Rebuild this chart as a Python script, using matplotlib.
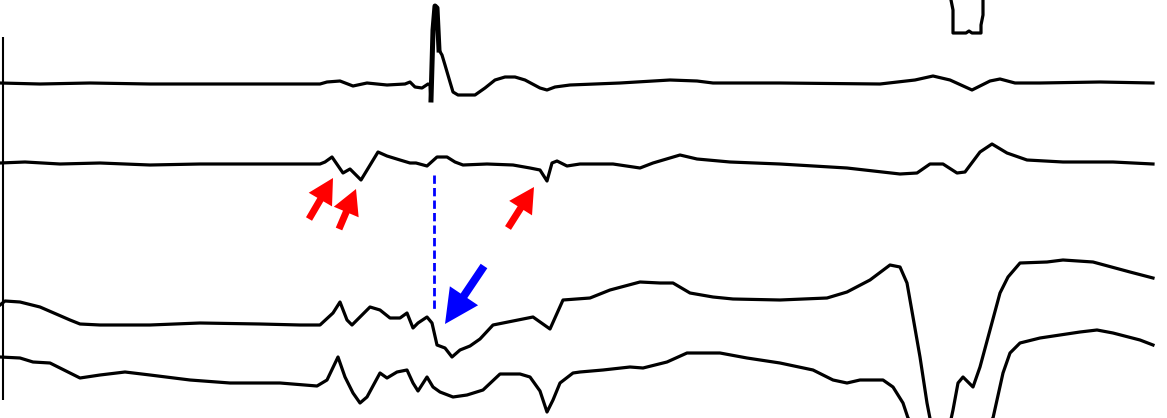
import matplotlib
matplotlib.use('Agg')
import matplotlib.pyplot as plt

# traces, in picture pixels (x to the right, y down)
top_x = [0, 40, 90, 150, 270, 320, 327, 340, 353, 367, 387, 405, 410, 415, 422, 428, 430,
         431, 433, 435, 437, 439, 442, 445, 450, 453, 458, 475, 485, 495, 505, 515, 525,
         540, 547, 555, 570, 620, 670, 697, 713, 780, 880, 915, 933, 950, 972, 990, 1000,
         1015, 1040, 1100, 1153]
top_y = [83, 84, 83, 84, 84, 84, 82, 81, 86, 83, 85, 84, 82, 87, 88, 84, 85,
         100, 30, 6, 8, 50, 55, 65, 82, 92, 95, 95, 88, 80, 77, 77, 80,
         88, 90, 87, 85, 83, 80, 81, 83, 83, 84, 80, 76, 80, 90, 81, 79,
         83, 83, 82, 83]

box_x = [951, 952, 953, 953, 966, 969, 972, 981, 981, 983, 983]
box_y = [0, 5, 10, 33, 33, 31, 33, 33, 25, 15, 0]

second_x = [0, 25, 60, 100, 150, 200, 260, 320, 325, 332, 343, 350, 361, 378, 387, 400,
            410, 416, 427, 437, 447, 455, 463, 487, 513, 530, 540, 547, 552, 557, 567,
            580, 613, 640, 653, 680, 697, 730, 780, 847, 900, 917, 930, 943, 957, 965,
            980, 992, 1007, 1027, 1063, 1113, 1153]
second_y = [163, 162, 164, 163, 165, 164, 164, 164, 162, 157, 173, 169, 180, 152, 156, 160,
            163, 163, 166, 157, 157, 162, 165, 164, 165, 168, 170, 181, 163, 161, 166,
            164, 164, 168, 163, 155, 159, 162, 164, 168, 174, 173, 164, 164, 173, 172,
            152, 144, 153, 160, 162, 162, 164]

third_x = [0, 5, 20, 40, 70, 80, 100, 150, 200, 260, 300, 320, 333, 340, 347, 352, 370,
           380, 390, 400, 407, 413, 418, 427, 432, 437, 445, 452, 460, 470, 480, 493,
           513, 533, 550, 563, 590, 610, 640, 660, 673, 690, 713, 733, 780, 827, 847,
           870, 890, 900, 907, 913, 920, 927, 940, 953, 958, 963, 968, 973, 980, 990,
           1000, 1008, 1020, 1047, 1063, 1093, 1130, 1153]
third_y = [305, 301, 302, 307, 320, 324, 325, 325, 323, 324, 325, 325, 313, 302, 320, 325, 307,
           310, 318, 318, 313, 328, 323, 317, 323, 345, 348, 357, 350, 346, 339, 325,
           321, 317, 329, 300, 298, 290, 282, 283, 283, 293, 297, 299, 300, 298, 292,
           280, 265, 267, 283, 317, 357, 403, 470, 410, 383, 377, 382, 387, 367, 330,
           293, 277, 263, 262, 260, 262, 272, 278]

bottom_x = [0, 20, 33, 50, 70, 80, 100, 125, 150, 190, 230, 280, 317, 327, 338, 345, 353,
            360, 367, 380, 387, 397, 407, 413, 418, 427, 433, 440, 453, 467, 483, 500,
            520, 530, 540, 547, 553, 560, 573, 580, 603, 630, 643, 667, 687, 700, 720,
            747, 780, 813, 833, 847, 860, 883, 893, 903, 908, 950, 993, 997, 1003, 1010,
            1020, 1040, 1060, 1080, 1097, 1113, 1140, 1153]
bottom_y = [357, 358, 362, 363, 373, 378, 375, 372, 375, 380, 383, 383, 386, 380, 357, 377, 393,
            403, 397, 373, 378, 372, 370, 383, 391, 377, 387, 392, 397, 395, 390, 374,
            374, 377, 391, 412, 400, 383, 373, 372, 370, 367, 368, 362, 353, 353, 353,
            358, 363, 370, 380, 383, 380, 380, 387, 403, 418, 470, 418, 400, 373, 353,
            343, 338, 335, 332, 330, 333, 340, 345]

W, H = 1167, 418
fig = plt.figure(figsize=(W / 100, H / 100), dpi=100)
ax = fig.add_axes([0, 0, 1, 1])
ax.set_xlim(0, W)
ax.set_ylim(H, 0)
ax.axis('off')

lw = 2.3
for xs, ys in [(top_x, top_y), (box_x, box_y), (second_x, second_y),
               (third_x, third_y), (bottom_x, bottom_y)]:
    ax.plot(xs, ys, color='black', lw=lw, solid_joinstyle='round')
# the spike is drawn heavier in the original
ax.plot(top_x[17:22], top_y[17:22], color='black', lw=3.6, solid_joinstyle='round')

# left scale bar
ax.vlines(3, 37, 400, color='black', lw=1.5)

# blue dashed marker and arrow
ax.vlines(434, 175, 312, color='#0000ff', lw=2, linestyles=(0, (3, 1.5)))
ax.arrow(484, 266, 445 - 484, 324 - 266, width=8, head_width=34, head_length=34,
         length_includes_head=True, color='#0000ff', lw=0)

# red arrows
for tail, tip in [((309, 219), (333, 178)), ((339, 229), (356, 189)), ((508, 228), (534, 187))]:
    ax.arrow(tail[0], tail[1], tip[0] - tail[0], tip[1] - tail[1], width=7,
             head_width=27, head_length=25, length_includes_head=True,
             color='#ff0000', lw=0)

fig.savefig('out.png', dpi=100)
